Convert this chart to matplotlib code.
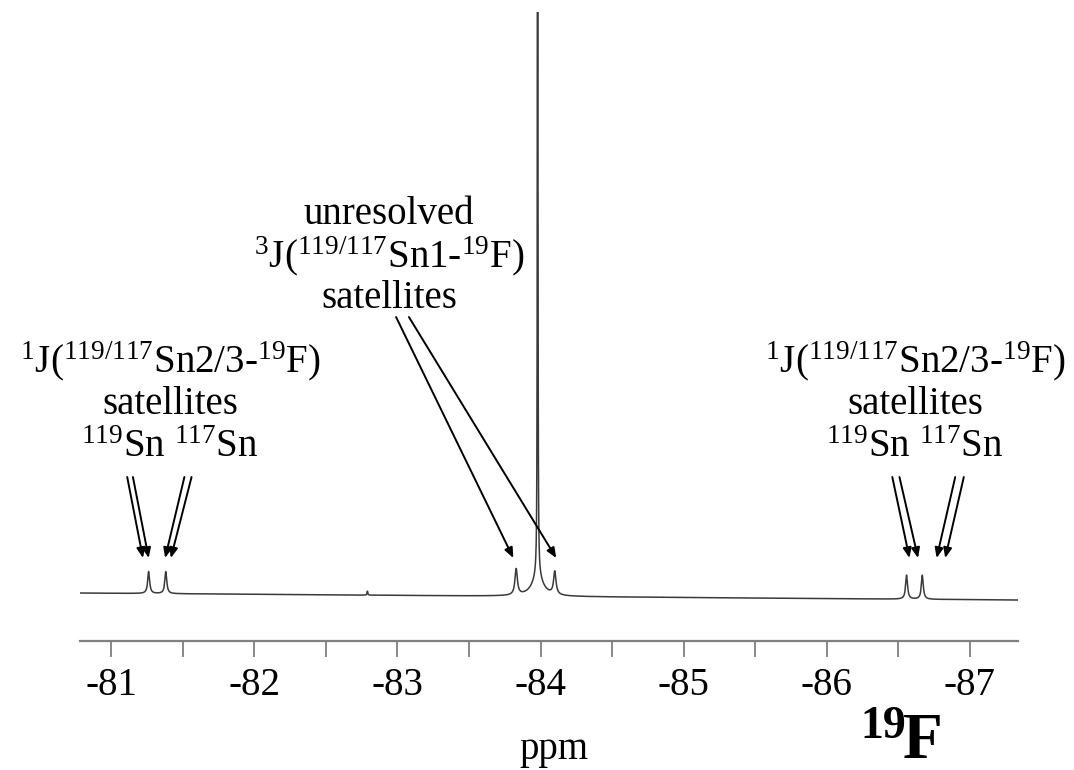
import numpy as np
import matplotlib
matplotlib.use('Agg')
from matplotlib import pyplot as plt
from matplotlib.ticker import MultipleLocator

plt.rcParams['font.family'] = ['Liberation Serif', 'DejaVu Serif']
plt.rcParams['mathtext.fontset'] = 'custom'
plt.rcParams['mathtext.rm'] = 'Liberation Serif'
plt.rcParams['mathtext.bf'] = 'Liberation Serif:bold'
plt.rcParams['mathtext.default'] = 'regular'
plt.rcParams['axes.unicode_minus'] = False

# 19F spectrum: peak list (ppm, height in px above baseline, half width in ppm)
peak_ppm = [-81.26, -81.38, -82.79, -83.83, -83.98, -83.98, -84.10, -86.56, -86.67]
peak_height = [22, 22, 4, 26, 2500, 20, 23, 24, 24]
peak_hwhm = [0.008, 0.008, 0.003, 0.010, 0.0012, 0.045, 0.010, 0.008, 0.008]
baseline_ppm = [-87.34, -80.78]
baseline_level = [-5, 2]

x_range = (-80.78, -87.34)
major_ticks = [-81, -82, -83, -84, -85, -86, -87]

# annotation blocks: text lines, centre x (ppm), baseline heights
side_lines = ['$^{1}$J($^{119/117}$Sn2/3-$^{19}$F)', 'satellites', '$^{119}$Sn $^{117}$Sn']
center_lines = ['unresolved', '$^{3}$J($^{119/117}$Sn1-$^{19}$F)', 'satellites']
left_x, right_x, center_x = -81.41, -86.62, -82.94
side_heights = [223, 181, 138]
center_heights = [371, 328, 287]

# arrows: (tail ppm, tip ppm) pairs, double lines for the 1J satellites
double_arrows = [
    [(-81.11, -81.22), (-81.15, -81.26)],
    [(-81.51, -81.375), (-81.56, -81.415)],
    [(-86.46, -86.58), (-86.51, -86.64)],
    [(-86.90, -86.77), (-86.96, -86.83)],
]
single_arrows = [(-82.99, -83.81), (-83.08, -84.11)]
side_tail_h, center_tail_h, tip_h = 118, 278, 37

x = np.linspace(x_range[1], x_range[0], 40000)
y = np.interp(x, baseline_ppm, baseline_level)
for p, h, w in zip(peak_ppm, peak_height, peak_hwhm):
    y = y + h * w ** 2 / ((x - p) ** 2 + w ** 2)

fig = plt.figure(figsize=(10.74, 7.70), dpi=100)
ax = fig.add_axes([0.0745, 0.1675, 0.8735, 0.8169])
ax.plot(x, y, color='#3a3a3a', lw=1.1)
ax.set_xlim(*x_range)
ax.set_ylim(-46, 583)

for s in ['left', 'right', 'top']:
    ax.spines[s].set_visible(False)
ax.spines['bottom'].set_color('#808080')
ax.spines['bottom'].set_linewidth(1.6)
ax.set_yticks([])
ax.set_xticks(major_ticks)
ax.set_xticklabels([str(t) for t in major_ticks])
ax.xaxis.set_minor_locator(MultipleLocator(0.5))
ax.tick_params(axis='x', which='both', direction='out', length=11.5,
               width=1.3, color='#808080', pad=7, labelsize=28)

for cx in [left_x, right_x]:
    for line, h in zip(side_lines, side_heights):
        ax.text(cx, h, line, ha='center', va='baseline', fontsize=28)
for line, h in zip(center_lines, center_heights):
    ax.text(center_x, h, line, ha='center', va='baseline', fontsize=28)

arrow_kw = dict(arrowstyle='-|>,head_length=0.6,head_width=0.25',
                color='black', lw=1.4, shrinkA=0, shrinkB=0)
for pair in double_arrows:
    for tail, tip in pair:
        ax.annotate('', xy=(tip, tip_h), xytext=(tail, side_tail_h),
                    arrowprops=arrow_kw)
for tail, tip in single_arrows:
    ax.annotate('', xy=(tip, tip_h), xytext=(tail, center_tail_h),
                arrowprops=arrow_kw)

fig.text(0.516, 0.014, 'ppm', fontsize=28, ha='center', va='baseline')
fig.text(0.801, 0.042, '19', fontsize=33, fontweight='bold',
         ha='left', va='baseline')
fig.text(0.841, 0.016, 'F', fontsize=47, fontweight='bold',
         ha='left', va='baseline')

fig.savefig('out.png')
plt.close(fig)
